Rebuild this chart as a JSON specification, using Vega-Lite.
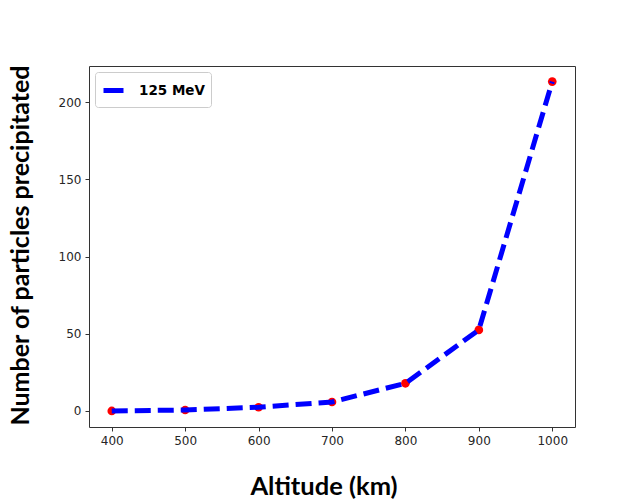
{
  "$schema": "https://vega.github.io/schema/vega-lite/v6.json",
  "width": 486,
  "height": 361,
  "autosize": {"type": "none"},
  "padding": {"left": 89, "top": 66, "right": 56, "bottom": 73},
  "config": {
    "view": {"stroke": "#333333", "strokeWidth": 1},
    "font": "DejaVu Sans"
  },
  "data": {
    "values": [
      {"altitude": 400, "count": 0, "series": "125 MeV"},
      {"altitude": 500, "count": 0.6, "series": "125 MeV"},
      {"altitude": 600, "count": 2.4, "series": "125 MeV"},
      {"altitude": 700, "count": 5.8, "series": "125 MeV"},
      {"altitude": 800, "count": 17.9, "series": "125 MeV"},
      {"altitude": 900, "count": 52.5, "series": "125 MeV"},
      {"altitude": 1000, "count": 213.3, "series": "125 MeV"}
    ]
  },
  "encoding": {
    "x": {
      "field": "altitude",
      "type": "quantitative",
      "scale": {"domain": [369, 1031], "nice": false, "zero": false},
      "axis": {
        "values": [400, 500, 600, 700, 800, 900, 1000],
        "format": "d",
        "grid": false,
        "domain": false,
        "tickSize": 4,
        "tickColor": "#333333",
        "labelFont": "DejaVu Sans",
        "labelFontSize": 12,
        "labelColor": "#262626",
        "labelPadding": 4,
        "title": "Altitude (km)",
        "titleFont": "Lato",
        "titleFontSize": 25.5,
        "titleFontWeight": "bold",
        "titleColor": "black",
        "titleX": 234.5,
        "titleY": 67,
        "titleAlign": "center",
        "titleBaseline": "alphabetic"
      }
    },
    "y": {
      "field": "count",
      "type": "quantitative",
      "scale": {"domain": [-10.4, 223.4], "nice": false, "zero": false},
      "axis": {
        "values": [0, 50, 100, 150, 200],
        "grid": false,
        "domain": false,
        "tickSize": 4,
        "tickColor": "#333333",
        "labelFont": "DejaVu Sans",
        "labelFontSize": 12,
        "labelColor": "#262626",
        "labelPadding": 4,
        "title": "Number of particles precipitated",
        "titleFont": "Lato",
        "titleFontSize": 25,
        "titleFontWeight": "bold",
        "titleColor": "black",
        "titleAngle": -90,
        "titleX": -81,
        "titleY": 179,
        "titleAlign": "center",
        "titleBaseline": "top"
      }
    }
  },
  "layer": [
    {
      "mark": {"type": "point", "filled": true, "color": "red", "size": 75, "opacity": 1}
    },
    {
      "mark": {"type": "line", "strokeWidth": 5, "strokeDash": [16, 7], "strokeCap": "butt"},
      "encoding": {
        "color": {
          "field": "series",
          "type": "nominal",
          "scale": {"range": ["blue"]},
          "legend": {
            "title": null,
            "orient": "top-left",
            "offset": 6,
            "padding": 6,
            "strokeColor": "#cccccc",
            "cornerRadius": 3,
            "fillColor": "white",
            "symbolType": "stroke",
            "symbolStrokeWidth": 5,
            "symbolSize": 400,
            "symbolDash": [100, 0],
            "labelFont": "DejaVu Sans",
            "labelFontWeight": "bold",
            "labelFontSize": 13.5,
            "labelColor": "black",
            "labelOffset": 13
          }
        }
      }
    }
  ]
}
